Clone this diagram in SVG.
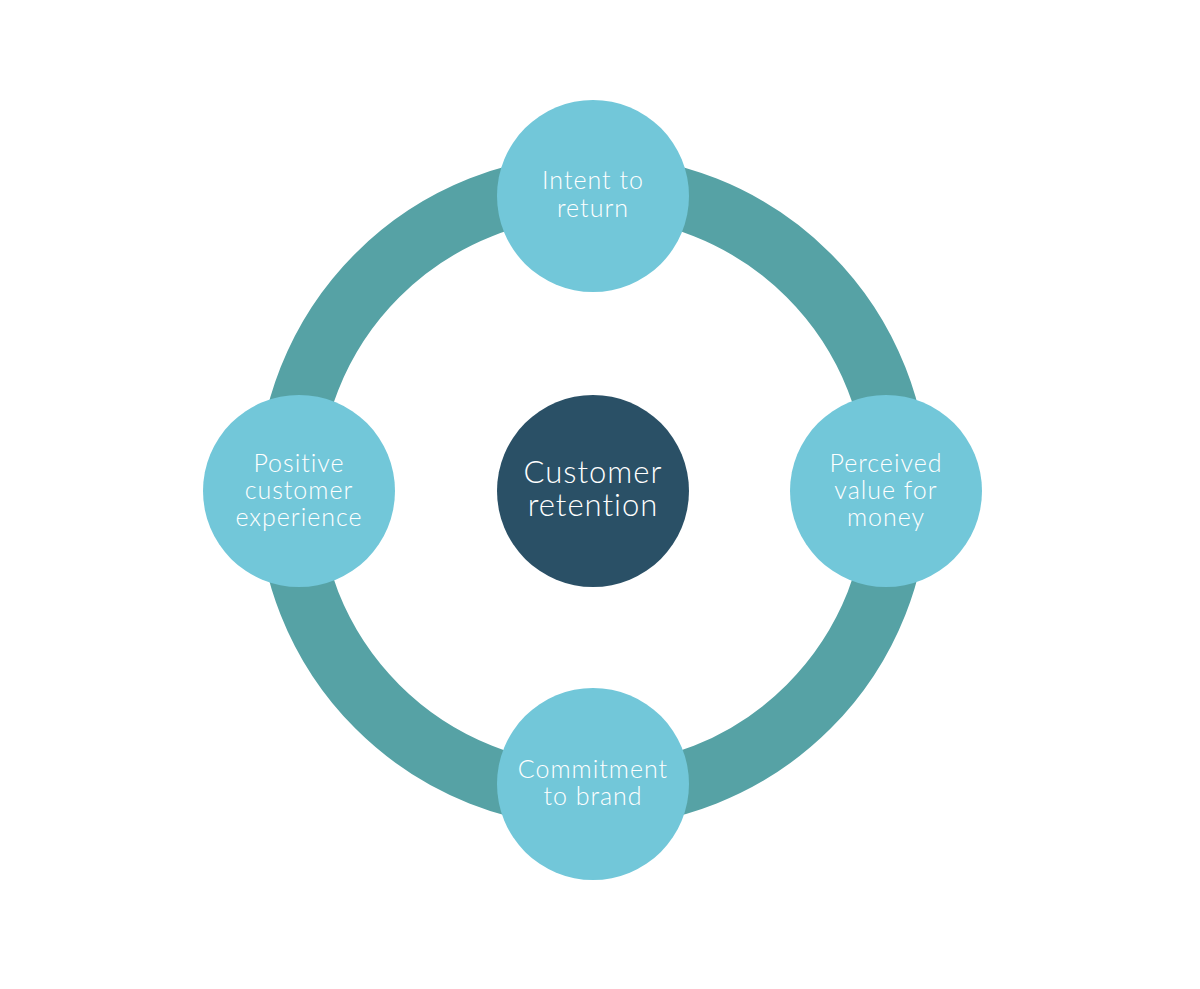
<svg xmlns="http://www.w3.org/2000/svg" width="1200" height="989" viewBox="0 0 1200 989">
<style>
.node{fill:#72C7D9}
.core{fill:#2A5066}
.lbl{fill:#ffffff;font-family:"Lato","Liberation Sans",sans-serif;font-weight:300;font-size:25px;letter-spacing:1px;text-anchor:middle}
.clbl{fill:#ffffff;font-family:"Lato","Liberation Sans",sans-serif;font-weight:300;font-size:31px;letter-spacing:1px;text-anchor:middle}
</style>
<rect width="1200" height="989" fill="#ffffff"/>
<g id="connectors">
<circle cx="593" cy="491" r="305" fill="none" stroke="#56A2A5" stroke-width="62"/>
</g>
<g id="center">
<circle class="core" cx="593" cy="491" r="96"/>
<text class="clbl" x="593" y="483">Customer</text>
<text class="clbl" x="593" y="516">retention</text>
</g>
<g id="top">
<circle class="node" cx="593" cy="196" r="96"/>
<text class="lbl" x="593" y="189">Intent to</text>
<text class="lbl" x="593" y="217">return</text>
</g>
<g id="left">
<circle class="node" cx="299" cy="491" r="96"/>
<text class="lbl" x="299" y="472">Positive</text>
<text class="lbl" x="299" y="499">customer</text>
<text class="lbl" x="299" y="526">experience</text>
</g>
<g id="right">
<circle class="node" cx="886" cy="491" r="96"/>
<text class="lbl" x="886" y="472">Perceived</text>
<text class="lbl" x="886" y="499">value for</text>
<text class="lbl" x="886" y="526">money</text>
</g>
<g id="bottom">
<circle class="node" cx="593" cy="784" r="96"/>
<text class="lbl" x="593" y="778">Commitment</text>
<text class="lbl" x="593" y="805">to brand</text>
</g>
</svg>
